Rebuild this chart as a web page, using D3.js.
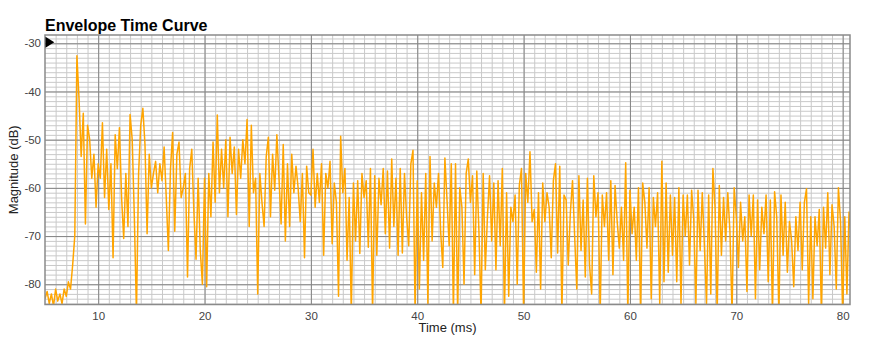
<!DOCTYPE html>
<html>
<head>
<meta charset="utf-8">
<script src="https://cdn.jsdelivr.net/npm/d3@7"></script>
<style>
  body { margin: 0; background: #fff; font-family: "Liberation Sans", Arial, sans-serif; }
  svg { display: block; }
  .tick text { fill: #444; font-size: 11.5px; font-family: "Liberation Sans", Arial, sans-serif; }
</style>
</head>
<body>
<svg id="chart" width="883" height="344"></svg>
<script>
// time axis of the measurement (ms)
const startMs = 5;
const stepMs = 0.2;
const xTicks = [10, 20, 30, 40, 50, 60, 70, 80];
const yTicks = [-30, -40, -50, -60, -70, -80];

// magnitude (dB), one value per 0.2 ms, split by decade
const etc05 = [-83, -81.5, -84, -82, -84.5, -81, -83.5, -82, -84, -81, -82.5, -79.5, -81, -76, -70,
  -32.6, -41.5, -53.5, -44.5, -67.5, -47, -50, -58, -53, -64];
const etc10 = [-55, -58, -46.5, -62, -52, -64.5, -55, -74.5, -49, -56,
  -47.5, -62, -70.5, -57, -68, -44.8, -50, -66, -86, -57,
  -47, -43.5, -51, -69.5, -53, -60, -57, -54.5, -61, -55,
  -58.5, -51.5, -62, -73, -56, -48.5, -69, -53, -50.5, -62,
  -60, -57, -78.5, -56, -52, -65, -74.8, -58, -73, -80];
const etc20 = [-58, -80.5, -57, -66, -50.5, -63, -44.9, -61, -52, -60,
  -50, -66, -49.5, -57, -51.5, -65.5, -52, -58, -50, -55,
  -45.8, -68, -47, -61, -58, -82, -57, -63, -68, -53.5,
  -49.5, -66, -53, -60.5, -49, -58, -67.5, -51, -71, -55,
  -68, -53, -61, -55.5, -60, -67, -57, -74.5, -55.5, -61];
const etc30 = [-61.5, -52, -64, -57, -63, -55, -74, -57, -60, -54.5,
  -71.6, -59, -63, -82.5, -49.3, -61, -56, -75, -62, -86,
  -59, -71, -58.5, -73.6, -57, -62, -58.5, -72.3, -56, -86,
  -57.5, -74, -58, -63.5, -56, -69.5, -56.5, -72.5, -54, -68,
  -58, -74, -56, -73.5, -57, -66, -72, -55, -52.2, -86];
const etc40 = [-58.5, -81, -61, -75, -57, -84, -53.5, -71, -59, -64,
  -57, -69, -76.5, -53.8, -62.5, -72, -55, -86, -55, -86,
  -60, -64, -80, -57, -54, -63, -57.5, -78, -56.5, -69,
  -86, -57, -77, -66, -57.5, -71, -59, -77, -58.5, -72,
  -56, -86, -61, -82.5, -64, -67, -61.5, -80, -59.4, -56];
const etc50 = [-86, -57, -63, -52.5, -67, -64.5, -77.5, -61, -81, -59,
  -67, -61, -64, -74.5, -58.5, -55, -73.5, -55.5, -86, -61.5,
  -62.5, -76, -65, -58.5, -70, -81, -57.5, -73, -62.5, -78.5,
  -58, -76, -82, -57.5, -66, -61, -86, -61.5, -68, -61,
  -75, -58.5, -78, -59.5, -67, -72.5, -64, -75, -54.8, -86];
const etc60 = [-60.5, -69.5, -64, -75, -60, -86, -59, -63, -72.5, -60,
  -83, -62, -68, -61, -84, -54.5, -79.5, -59, -77.5, -61.5,
  -74, -62, -79.5, -60, -84, -61.5, -70, -61.5, -76, -60.5,
  -66.5, -84, -60.5, -73, -61, -72, -84, -61.5, -82, -56,
  -64, -86, -59.5, -74, -62, -71, -61, -69, -86, -60];
const etc70 = [-66, -76.5, -63, -71, -66, -81.5, -61.5, -70, -61.5, -83,
  -62.5, -77, -64, -69.5, -61.5, -79.5, -62.5, -86, -60.8, -66,
  -86, -61.5, -74, -63, -77.5, -67, -71, -80.5, -66, -73,
  -63, -77, -63, -60.2, -84, -66, -83, -66, -72, -64.5,
  -86, -64, -72.5, -61, -78, -63.5, -68, -81, -60, -67,
  -86, -66, -82, -65, -70];

const magnitudes = [].concat(etc05, etc10, etc20, etc30, etc40, etc50, etc60, etc70);

const colors = {
  line: "#ffa500",
  gridMinor: "#c9c9c9",
  gridMajor: "#858585",
  border: "#8a8a8a",
  text: "#444"
};

function main() {
  const svg = d3.select("#chart");
  const left = 45, right = 850, top = 35, bottom = 304.5;
  const w = right - left, h = bottom - top;

  const x = d3.scaleLinear().domain([5, 80.69]).range([left, right]);
  const y = d3.scaleLinear().domain([-84.2, -28.28]).range([bottom, top]);

  // minor grid
  svg.append("g")
    .attr("transform", `translate(0,${bottom})`)
    .call(d3.axisBottom(x).tickValues(d3.range(6, 81, 1)).tickSize(-h).tickFormat(""))
    .call(g => g.select(".domain").remove())
    .call(g => g.selectAll("line").attr("stroke", colors.gridMinor));
  svg.append("g")
    .attr("transform", `translate(${left},0)`)
    .call(d3.axisLeft(y).tickValues(d3.range(-84, -28, 1)).tickSize(-w).tickFormat(""))
    .call(g => g.select(".domain").remove())
    .call(g => g.selectAll("line").attr("stroke", colors.gridMinor));

  // major grid
  svg.append("g")
    .attr("transform", `translate(0,${bottom})`)
    .call(d3.axisBottom(x).tickValues(xTicks).tickSize(-h).tickFormat(""))
    .call(g => g.select(".domain").remove())
    .call(g => g.selectAll("line").attr("stroke", colors.gridMajor));
  svg.append("g")
    .attr("transform", `translate(${left},0)`)
    .call(d3.axisLeft(y).tickValues(yTicks).tickSize(-w).tickFormat(""))
    .call(g => g.select(".domain").remove())
    .call(g => g.selectAll("line").attr("stroke", colors.gridMajor));

  // the curve
  svg.append("clipPath").attr("id", "plot-clip")
    .append("rect").attr("x", left).attr("y", top).attr("width", w).attr("height", h);

  const line = d3.line()
    .x((d, i) => x(startMs + i * stepMs))
    .y(d => y(d));

  svg.append("path")
    .datum(magnitudes)
    .attr("clip-path", "url(#plot-clip)")
    .attr("fill", "none")
    .attr("stroke", colors.line)
    .attr("stroke-width", 1.5)
    .attr("stroke-linejoin", "round")
    .attr("d", line);

  // frame
  svg.append("rect")
    .attr("x", left).attr("y", top).attr("width", w).attr("height", h)
    .attr("fill", "none").attr("stroke", colors.border).attr("stroke-width", 1.5);

  // tick labels
  svg.append("g")
    .attr("transform", `translate(0,${bottom})`)
    .call(d3.axisBottom(x).tickValues(xTicks).tickSize(0).tickPadding(7).tickFormat(d3.format("d")))
    .call(g => g.select(".domain").remove());
  svg.append("g")
    .attr("transform", `translate(${left},0)`)
    .call(d3.axisLeft(y).tickValues(yTicks).tickSize(0).tickPadding(4).tickFormat(d => String(d)))
    .call(g => g.select(".domain").remove());

  // marker at the top-left
  svg.append("path")
    .attr("d", d3.line()([[45.5, 36.8], [45.5, 47.8], [54.3, 42.3]]) + "Z")
    .attr("fill", "#000");

  // titles
  svg.append("text")
    .attr("x", left).attr("y", 31)
    .attr("font-size", 16).attr("font-weight", "bold").attr("fill", "#000")
    .text("Envelope Time Curve");

  svg.append("text")
    .attr("x", (left + right) / 2).attr("y", 332)
    .attr("text-anchor", "middle").attr("font-size", 13).attr("fill", "#222")
    .text("Time (ms)");

  svg.append("text")
    .attr("transform", `translate(18,${(top + bottom) / 2}) rotate(-90)`)
    .attr("text-anchor", "middle").attr("font-size", 13).attr("fill", "#222")
    .text("Magnitude (dB)");
}

main();
</script>
</body>
</html>
